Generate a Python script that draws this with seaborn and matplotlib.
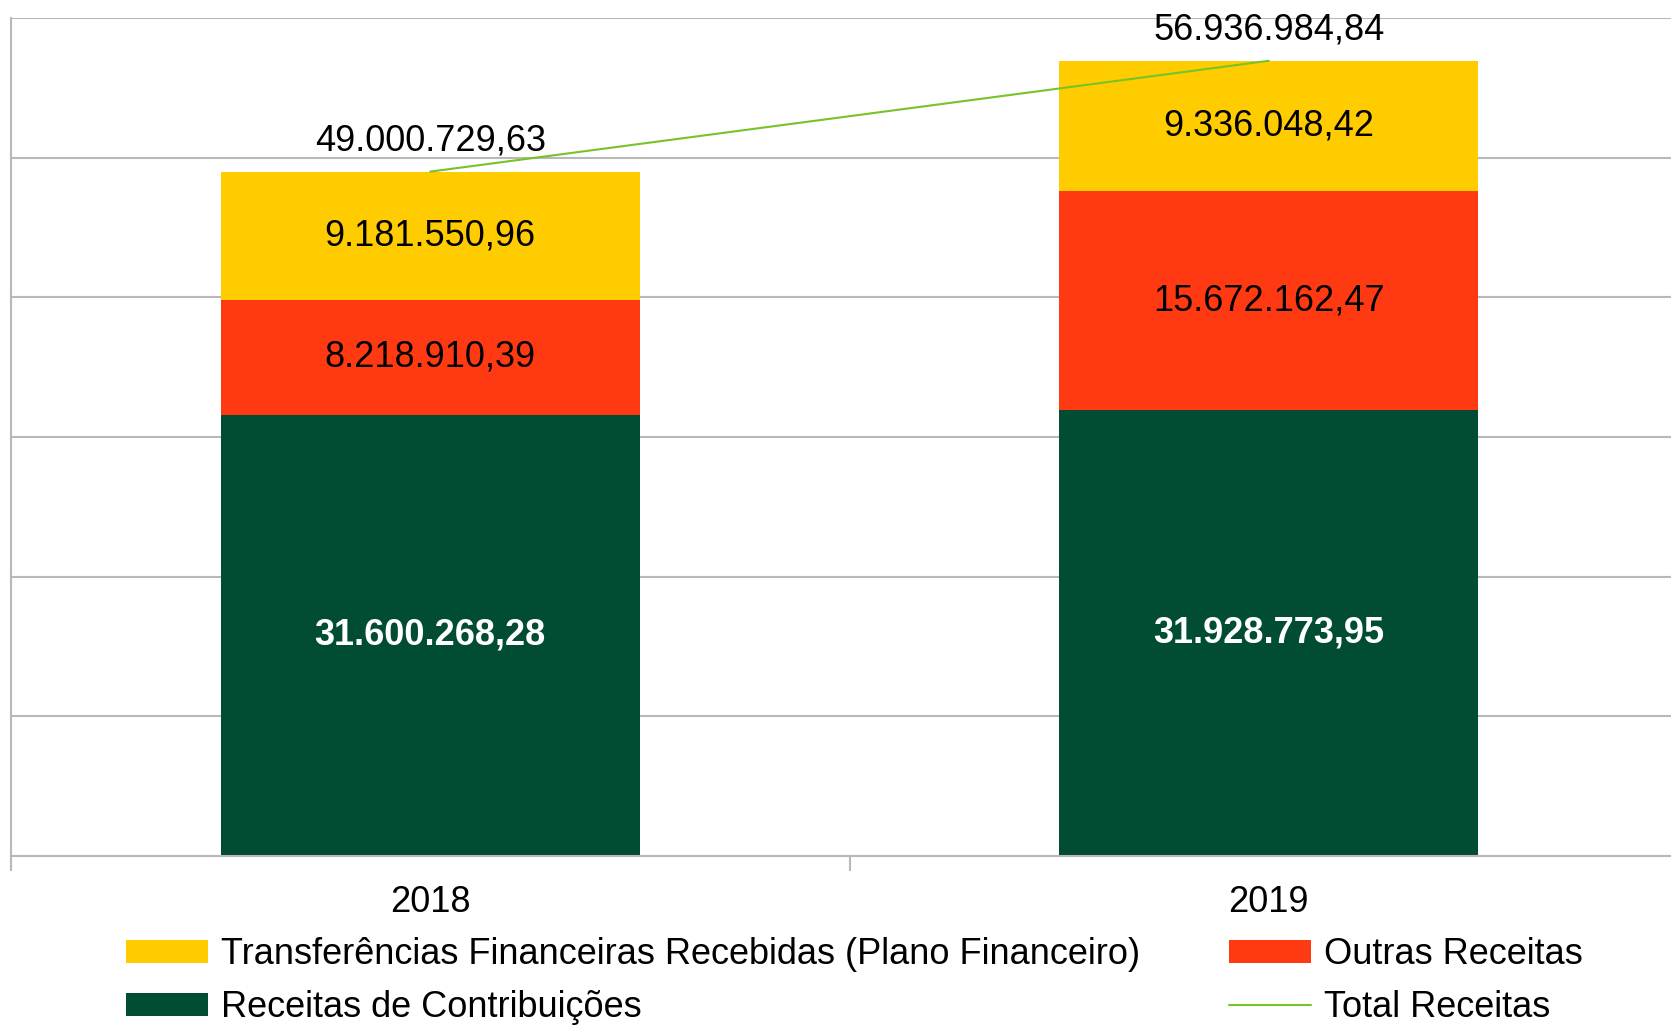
import matplotlib
matplotlib.use("Agg")
import matplotlib.pyplot as plt
import seaborn as sns
import numpy as np
from matplotlib.lines import Line2D

# data
years = ["2018", "2019"]
contribuicoes = [31600268.28, 31928773.95]
outras = [8218910.39, 15672162.47]
transferencias = [9181550.96, 9336048.42]
totais = [49000729.63, 56936984.84]

YELLOW = "#FFCC00"
RED = "#FF3A12"
DARK_GREEN = "#004D33"
LINE_GREEN = "#78C22A"
GRID = "#B8B8B8"
FS = 26


def fmt_br(v):
    s = f"{v:,.2f}"
    return s.replace(",", "X").replace(".", ",").replace("X", ".")


sns.set_style("white")
plt.rcParams["font.family"] = ["Liberation Sans", "DejaVu Sans"]
plt.rcParams["text.color"] = "black"
plt.rcParams["xtick.color"] = "black"

fig = plt.figure(figsize=(16.71, 10.28), dpi=100)
ax = fig.add_axes([11 / 1671, 1 - 856 / 1028, (1688 - 11) / 1671, (856 - 18) / 1028])

bottom2 = np.array(contribuicoes) + np.array(outras)
sns.barplot(x=years, y=contribuicoes, color=DARK_GREEN, width=0.5, ax=ax,
            label="Receitas de Contribuições", saturation=1, linewidth=0)
sns.barplot(x=years, y=outras, bottom=contribuicoes, color=RED, width=0.5, ax=ax,
            label="Outras Receitas", saturation=1, linewidth=0)
sns.barplot(x=years, y=transferencias, bottom=bottom2, color=YELLOW, width=0.5, ax=ax,
            label="Transferências Financeiras Recebidas (Plano Financeiro)",
            saturation=1, linewidth=0)
sns.lineplot(x=np.arange(len(years)), y=totais, color=LINE_GREEN, linewidth=1.5, ax=ax,
             label="Total Receitas", zorder=4)

# segment labels
for i in range(len(years)):
    ax.text(i, contribuicoes[i] / 2, fmt_br(contribuicoes[i]), ha="center", va="center",
            color="white", fontsize=FS, fontweight="bold")
    ax.text(i, contribuicoes[i] + outras[i] / 2, fmt_br(outras[i]), ha="center", va="center",
            color="black", fontsize=FS)
    ax.text(i, bottom2[i] + transferencias[i] / 2, fmt_br(transferencias[i]), ha="center",
            va="center", color="black", fontsize=FS)
    ax.annotate(fmt_br(totais[i]), (i, totais[i]), xytext=(0, 22), textcoords="offset points",
                ha="center", va="center", fontsize=FS, color="black")

ax.set_xlim(-0.5, 1.5)
ax.set_ylim(0, 60000000)
ax.set_yticks(np.arange(0, 60000001, 10000000))
ax.set_yticklabels([])
ax.tick_params(axis="y", length=0)
ax.yaxis.grid(True, color=GRID, linewidth=1.5)
ax.set_axisbelow(True)

ax.set_xticks([0, 1])
ax.set_xticklabels(years, fontsize=FS, color="black")
ax.set_xticks([-0.5, 0.5, 1.5], minor=True)
ax.tick_params(axis="x", which="major", bottom=True, length=0, pad=21)
ax.tick_params(axis="x", which="minor", bottom=True, length=10.5, width=1.5, color=GRID,
               direction="out")

for side in ["top", "right"]:
    ax.spines[side].set_visible(False)
for side in ["left", "bottom"]:
    ax.spines[side].set_color(GRID)
    ax.spines[side].set_linewidth(1.5)
ax.set_xlabel("")
ax.set_ylabel("")

ax.get_legend().remove()
bars = ax.containers
h_green, h_red, h_yellow = bars[0], bars[1], bars[2]
h_line = Line2D([], [], color=LINE_GREEN, linewidth=1.5)

leg_kw = dict(frameon=False, fontsize=FS, loc="upper left", borderpad=0, borderaxespad=0,
              handlelength=2.27, handleheight=0.6, handletextpad=0.36, labelspacing=0.5,
              labelcolor="black")
fig.legend([h_yellow, h_green],
           ["Transferências Financeiras Recebidas (Plano Financeiro)", "Receitas de Contribuições"],
           bbox_to_anchor=(126 / 1671, 1 - 937 / 1028), **leg_kw)
fig.legend([h_red, h_line], ["Outras Receitas", "Total Receitas"],
           bbox_to_anchor=(1229 / 1671, 1 - 937 / 1028), **leg_kw)

fig.savefig("out.png", dpi=100)
